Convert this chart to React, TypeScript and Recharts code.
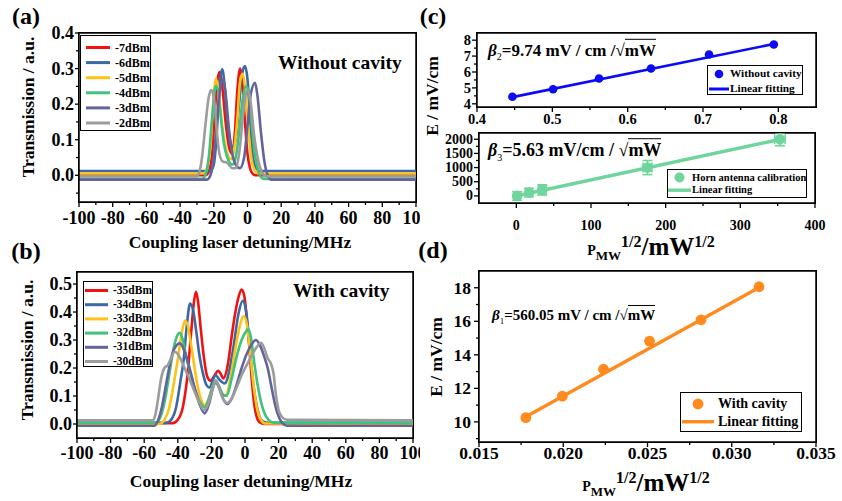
import React from 'react';
import {
  ComposedChart,
  ErrorBar,
  Line,
  LineChart,
  ReferenceLine,
  Scatter,
  XAxis,
  YAxis,
} from 'recharts';

const FONT = '"Liberation Serif", "Times New Roman", Times, serif';

// (a) transmission without cavity, [detuning MHz, transmission a.u.]
const noCavM7 = [[-100, 0], [-25, 0], [-23, 0.01], [-21, 0.06], [-19.5, 0.17], [-18, 0.26], [-16.7, 0.29], [-15, 0.25], [-13, 0.15], [-11, 0.08], [-9, 0.06], [-7.5, 0.12], [-6, 0.24], [-4.4, 0.3], [-3, 0.26], [-1.5, 0.15], [0, 0.06], [1.5, 0.02], [3, 0.005], [5, 0], [100, 0]];
const noCavM6 = [[-100, 0.012], [-22, 0.012], [-20, 0.03], [-18.5, 0.1], [-17, 0.22], [-15, 0.298], [-13.5, 0.25], [-12, 0.16], [-10.5, 0.1], [-9, 0.08], [-7, 0.1], [-5, 0.2], [-3, 0.29], [-1.5, 0.307], [0, 0.27], [1.5, 0.16], [3, 0.06], [5, 0.02], [7, 0.012], [100, 0.012]];
const noCavM5 = [[-100, 0.005], [-26, 0.005], [-24, 0.02], [-22, 0.08], [-20.5, 0.19], [-18.7, 0.272], [-17, 0.23], [-15, 0.14], [-13, 0.08], [-11, 0.05], [-9.5, 0.045], [-8, 0.07], [-6, 0.16], [-4.5, 0.26], [-3, 0.285], [-1.5, 0.25], [0, 0.16], [1.5, 0.08], [3, 0.03], [5, 0.01], [7, 0.005], [100, 0.005]];
const noCavM4 = [[-100, -0.01], [-27, -0.01], [-25, 0], [-23, 0.05], [-21, 0.16], [-19, 0.25], [-17.5, 0.24], [-16, 0.17], [-14, 0.09], [-12, 0.05], [-9, 0.03], [-7, 0.05], [-5, 0.12], [-3, 0.21], [-1, 0.25], [0.5, 0.24], [2, 0.17], [4, 0.07], [6, 0.02], [8, -0.005], [10, -0.01], [100, -0.01]];
const noCavM3 = [[-100, -0.012], [-24, -0.012], [-22, 0], [-20, 0.05], [-18, 0.16], [-16, 0.25], [-14.5, 0.27], [-13, 0.23], [-11, 0.13], [-9, 0.06], [-7, 0.03], [-4.5, 0.02], [-2, 0.05], [0, 0.14], [2, 0.23], [4.5, 0.26], [6, 0.22], [8, 0.12], [10, 0.04], [12, 0], [14, -0.012], [100, -0.012]];
const noCavM2 = [[-100, -0.003], [-30, -0.003], [-28.5, 0.01], [-27, 0.05], [-25, 0.14], [-23, 0.22], [-21.5, 0.24], [-20, 0.22], [-18.5, 0.14], [-17, 0.07], [-15, 0.04], [-12, 0.035], [-9, 0.02], [-7, 0.02], [-5, 0.06], [-3, 0.15], [-1, 0.23], [0.5, 0.24], [2, 0.2], [4, 0.11], [6, 0.05], [8, 0.015], [11, -0.003], [100, -0.003]];

// (b) transmission with cavity
const cavM35 = [[-100, 0.003], [-43, 0.003], [-40, 0.015], [-37, 0.06], [-34.5, 0.16], [-32, 0.33], [-30.5, 0.43], [-29.2, 0.472], [-28, 0.44], [-26.5, 0.35], [-24.5, 0.24], [-22.5, 0.17], [-20.5, 0.155], [-18, 0.175], [-16, 0.19], [-14.5, 0.18], [-13, 0.163], [-10, 0.22], [-8, 0.31], [-6, 0.39], [-4, 0.45], [-2, 0.48], [-0.5, 0.46], [1, 0.38], [2.5, 0.28], [4, 0.16], [5.5, 0.07], [7, 0.025], [9, 0.005], [12, 0], [100, 0]];
const cavM34 = [[-100, 0.004], [-47, 0.004], [-44, 0.015], [-41, 0.06], [-38.5, 0.15], [-36.5, 0.23], [-34.5, 0.36], [-32.7, 0.43], [-31, 0.41], [-29, 0.33], [-27, 0.24], [-25, 0.18], [-23, 0.14], [-21, 0.13], [-19, 0.16], [-17.5, 0.175], [-15.5, 0.16], [-12, 0.145], [-9, 0.2], [-6.5, 0.29], [-4, 0.39], [-1.4, 0.44], [0.5, 0.41], [2, 0.33], [3.5, 0.23], [5, 0.14], [6.5, 0.08], [8.5, 0.03], [11, 0.008], [14, 0.004], [100, 0.004]];
const cavM33 = [[-100, 0], [-51, 0], [-48, 0.015], [-45, 0.06], [-42.5, 0.14], [-40, 0.23], [-37.5, 0.33], [-35.7, 0.37], [-34, 0.35], [-32, 0.28], [-30, 0.2], [-28, 0.13], [-26, 0.085], [-24, 0.068], [-22, 0.085], [-19.5, 0.13], [-17.5, 0.15], [-15.5, 0.135], [-13, 0.1], [-11, 0.105], [-8.5, 0.17], [-6, 0.26], [-3.5, 0.34], [-0.8, 0.385], [1, 0.36], [2.5, 0.29], [4, 0.2], [5.5, 0.12], [7, 0.06], [9, 0.02], [12, 0.002], [100, 0]];
const cavM32 = [[-100, 0.005], [-53, 0.005], [-50, 0.03], [-47.5, 0.09], [-45, 0.18], [-42.5, 0.27], [-40, 0.32], [-38.7, 0.326], [-37, 0.3], [-35, 0.24], [-32, 0.17], [-29, 0.11], [-26.5, 0.075], [-24, 0.06], [-21.5, 0.09], [-19, 0.14], [-17.5, 0.155], [-15.5, 0.135], [-13, 0.105], [-11, 0.1], [-8, 0.16], [-5, 0.24], [-2, 0.3], [0, 0.325], [2, 0.338], [3.5, 0.31], [5.5, 0.22], [7.5, 0.14], [9.5, 0.08], [11.5, 0.04], [14, 0.015], [17, 0.005], [100, 0.005]];
const cavM31 = [[-100, -0.006], [-54, -0.006], [-52, 0.01], [-49.5, 0.06], [-47, 0.14], [-44.5, 0.22], [-42, 0.27], [-38.7, 0.288], [-36, 0.26], [-33, 0.2], [-30, 0.13], [-27, 0.07], [-24, 0.038], [-21.5, 0.07], [-19, 0.13], [-17.5, 0.15], [-15.5, 0.13], [-13, 0.09], [-10.5, 0.072], [-8, 0.09], [-5, 0.14], [-2, 0.2], [1, 0.25], [4, 0.285], [6.5, 0.3], [9, 0.28], [11.5, 0.24], [13.5, 0.2], [15.5, 0.14], [17.5, 0.08], [19.5, 0.035], [22, 0.005], [25, -0.006], [100, -0.006]];
const cavM30 = [[-100, 0.013], [-55, 0.013], [-53.5, 0.03], [-52, 0.08], [-50, 0.16], [-48, 0.2], [-46, 0.21], [-44, 0.235], [-41.7, 0.258], [-39, 0.24], [-36, 0.2], [-33, 0.16], [-30, 0.115], [-27, 0.075], [-24.5, 0.05], [-22, 0.07], [-19.5, 0.12], [-17.5, 0.155], [-15.5, 0.13], [-13, 0.09], [-10.5, 0.075], [-8, 0.09], [-5, 0.13], [-2, 0.175], [1, 0.21], [4, 0.245], [7, 0.275], [9.5, 0.29], [11.5, 0.27], [13.5, 0.235], [15.5, 0.215], [17, 0.18], [18.5, 0.1], [20, 0.05], [22, 0.025], [25, 0.015], [100, 0.013]];

const powersA = ['-7dBm', '-6dBm', '-5dBm', '-4dBm', '-3dBm', '-2dBm'];
const powersB = ['-35dBm', '-34dBm', '-33dBm', '-32dBm', '-31dBm', '-30dBm'];
const traceColors = ['#f01212', '#3a69a4', '#ffc214', '#3fc27c', '#64649c', '#9c9c9c'];
const tracesA = [noCavM7, noCavM6, noCavM5, noCavM4, noCavM3, noCavM2];
const tracesB = [cavM35, cavM34, cavM33, cavM32, cavM31, cavM30];

// (c) field vs sqrt(P): without cavity and horn antenna calibration
const noCavSqrtP = [0.447, 0.501, 0.562, 0.631, 0.708, 0.794];
const noCavField = [4.44, 4.92, 5.59, 6.22, 7.1, 7.73];
const noCavFit = [[0.447, 4.42], [0.794, 7.76]];
const hornSqrtP = [1, 17, 34.7, 175.6, 353];
const hornField = [0, 118, 212, 1000, 2000];
const hornErrX = [3, 4, 5, 6, 7];
const hornErrY = [150, 150, 180, 250, 230];
const hornFit = [[1, 6], [354, 2000]];

// (d) field vs sqrt(P) with cavity
const cavSqrtP = [0.01778, 0.01995, 0.02239, 0.02512, 0.02818, 0.03162];
const cavField = [10.25, 11.54, 13.14, 14.82, 16.09, 18.06];
const cavFit = [[0.01778, 10.3], [0.03162, 18.02]];

const specXMajor = [-100, -80, -60, -40, -20, 0, 20, 40, 60, 80, 100];
const specXMinor = [-90, -70, -50, -30, -10, 10, 30, 50, 70, 90];
const aYMajor = [0, 0.1, 0.2, 0.3, 0.4];
const aYMinor = [-0.05, 0.05, 0.15, 0.25, 0.35];
const bYMajor = [0, 0.1, 0.2, 0.3, 0.4, 0.5];
const bYMinor = [0.05, 0.15, 0.25, 0.35, 0.45];
const c1XMajor = [0.4, 0.5, 0.6, 0.7, 0.8];
const c1XMinor = [0.45, 0.55, 0.65, 0.75];
const c1YMajor = [4, 5, 6, 7, 8];
const c1YMinor = [4.5, 5.5, 6.5, 7.5];
const c2XMajor = [0, 100, 200, 300, 400];
const c2XMinor = [50, 150, 250, 350];
const c2YMajor = [0, 500, 1000, 1500, 2000];
const c2YMinor = [250, 750, 1250, 1750];
const dXMajor = [0.015, 0.02, 0.025, 0.03, 0.035];
const dXMinor = [0.0175, 0.0225, 0.0275, 0.0325];
const dYMajor = [10, 12, 14, 16, 18];
const dYMinor = [9, 11, 13, 15, 17];

const toPts = (arr: number[][]) => arr.map(([x, y]) => ({ x, y }));

type Margin = { top: number; right: number; left: number; bottom: number };
type Layout = { left: number; top: number; width: number; height: number; margin: Margin; yWidth: number; xHeight: number };

// where each sub-chart sits on the page
const layoutA: Layout = { left: 0, top: 0, width: 420, height: 250, margin: { top: 33, right: 4, left: 0, bottom: 0 }, yWidth: 79, xHeight: 48 };
const layoutB: Layout = { left: 0, top: 250, width: 420, height: 251, margin: { top: 22, right: 7, left: 0, bottom: 0 }, yWidth: 77, xHeight: 63 };
const layoutC1: Layout = { left: 420, top: 0, width: 422, height: 132, margin: { top: 33, right: 26, left: 0, bottom: 0 }, yWidth: 57, xHeight: 25 };
const layoutC2: Layout = { left: 420, top: 125, width: 422, height: 125, margin: { top: 8, right: 27, left: 0, bottom: 0 }, yWidth: 59, xHeight: 47 };
const layoutD: Layout = { left: 420, top: 250, width: 422, height: 251, margin: { top: 21, right: 26, left: 0, bottom: 0 }, yWidth: 59, xHeight: 59 };

type TickOpts = {
  side: 'bottom' | 'left';
  majors: number[];
  fmt: (v: number) => string;
  size: number;
  gap: number;
  len?: number;
};

// draws major/minor tick marks plus bold labels for the majors
function axisTick(o: TickOpts) {
  return (props: any) => {
    const { x, y, payload } = props;
    const v = Number(payload.value);
    const major = o.majors.some((m) => Math.abs(m - v) < 1e-9);
    const len = major ? o.len ?? 5 : 3;
    const textProps = {
      fontFamily: FONT,
      fontWeight: 'bold' as const,
      fontSize: o.size,
      fill: '#000',
      dominantBaseline: 'central' as const,
    };
    if (o.side === 'bottom') {
      return (
        <g>
          <line x1={x} x2={x} y1={y} y2={y + len} stroke='#000' strokeWidth={1.3} />
          {major && (
            <text x={x} y={y + o.gap} textAnchor='middle' {...textProps}>
              {o.fmt(v)}
            </text>
          )}
        </g>
      );
    }
    return (
      <g>
        <line x1={x} x2={x - len} y1={y} y2={y} stroke='#000' strokeWidth={1.3} />
        {major && (
          <text x={x - o.gap} y={y} textAnchor='end' {...textProps}>
            {o.fmt(v)}
          </text>
        )}
      </g>
    );
  };
}

const axisLine = { stroke: '#000', strokeWidth: 1.5 };

// top and right edges of the plot box as reference lines on the domain limits
function boxEdges(xd: number[], yd: number[]) {
  return [
    <ReferenceLine key='top' y={yd[1]} stroke='#000' strokeWidth={1.5} ifOverflow='visible' />,
    <ReferenceLine key='right' x={xd[1]} stroke='#000' strokeWidth={1.5} ifOverflow='visible' />,
  ];
}

// closed box around a plot area, from the margins/axis sizes its chart uses
function PlotFrame({ l }: { l: Layout }) {
  const x0 = l.left + l.margin.left + l.yWidth;
  const y0 = l.top + l.margin.top;
  const x1 = l.left + l.width - l.margin.right;
  const y1 = l.top + l.height - l.margin.bottom - l.xHeight;
  return (
    <div
      style={{
        position: 'absolute',
        left: x0 - 0.75,
        top: y0 - 0.75,
        width: x1 - x0 + 1.5,
        height: y1 - y0 + 1.5,
        border: '1.5px solid #000',
        boxSizing: 'border-box',
        pointerEvents: 'none',
      }}
    />
  );
}

function SpectrumChart(props: {
  l: Layout;
  traces: number[][][];
  yDomain: number[];
  yMajor: number[];
  yMinor: number[];
  xGap: number;
  yGap: number;
}) {
  const { l } = props;
  const xd = [-100, 100];
  return (
    <LineChart width={l.width} height={l.height} margin={l.margin}>
      <XAxis
        type='number'
        dataKey='x'
        domain={xd}
        allowDataOverflow
        ticks={[...specXMajor, ...specXMinor]}
        interval={0}
        height={l.xHeight}
        axisLine={axisLine}
        tickLine={false}
        tickSize={0}
        tickMargin={0}
        tick={axisTick({ side: 'bottom', majors: specXMajor, fmt: (v) => String(v), size: 18, gap: props.xGap })}
      />
      <YAxis
        type='number'
        dataKey='y'
        domain={props.yDomain}
        allowDataOverflow
        ticks={[...props.yMajor, ...props.yMinor]}
        interval={0}
        width={l.yWidth}
        axisLine={axisLine}
        tickLine={false}
        tickSize={0}
        tickMargin={0}
        tick={axisTick({ side: 'left', majors: props.yMajor, fmt: (v) => v.toFixed(1), size: 18, gap: props.yGap, len: 4 })}
      />
      {boxEdges(xd, props.yDomain)}
      {props.traces.map((t, i) => (
        <Line
          key={i}
          data={toPts(t)}
          dataKey='y'
          type='monotone'
          stroke={traceColors[i]}
          strokeWidth={2.6}
          dot={false}
          isAnimationActive={false}
        />
      ))}
    </LineChart>
  );
}

function FieldChart(props: {
  l: Layout;
  xDomain: number[];
  yDomain: number[];
  xMajor: number[];
  xMinor: number[];
  yMajor: number[];
  yMinor: number[];
  xFmt: (v: number) => string;
  tickSize: number;
  xGap: number;
  yGap: number;
  points: { x: number; y: number; ex?: number; ey?: number }[];
  fit: number[][];
  color: string;
  r: number;
  lineWidth: number;
  errors?: boolean;
}) {
  const { l } = props;
  const c = props.color;
  return (
    <ComposedChart width={l.width} height={l.height} margin={l.margin}>
      <XAxis
        type='number'
        dataKey='x'
        domain={props.xDomain}
        allowDataOverflow
        ticks={[...props.xMajor, ...props.xMinor]}
        interval={0}
        height={l.xHeight}
        axisLine={axisLine}
        tickLine={false}
        tickSize={0}
        tickMargin={0}
        tick={axisTick({ side: 'bottom', majors: props.xMajor, fmt: props.xFmt, size: props.tickSize, gap: props.xGap })}
      />
      <YAxis
        type='number'
        dataKey='y'
        domain={props.yDomain}
        allowDataOverflow
        ticks={[...props.yMajor, ...props.yMinor]}
        interval={0}
        width={l.yWidth}
        axisLine={axisLine}
        tickLine={false}
        tickSize={0}
        tickMargin={0}
        tick={axisTick({ side: 'left', majors: props.yMajor, fmt: (v) => String(v), size: props.tickSize, gap: props.yGap })}
      />
      {boxEdges(props.xDomain, props.yDomain)}
      <Line
        data={toPts(props.fit)}
        dataKey='y'
        type='linear'
        stroke={c}
        strokeWidth={props.lineWidth}
        dot={false}
        isAnimationActive={false}
      />
      <Scatter
        data={props.points}
        dataKey='y'
        fill={c}
        isAnimationActive={false}
        shape={(p: any) => <circle cx={p.cx} cy={p.cy} r={props.r} fill={c} />}
      >
        {props.errors && <ErrorBar dataKey='ex' direction='x' width={5} stroke={c} strokeWidth={1.6} />}
        {props.errors && <ErrorBar dataKey='ey' direction='y' width={5} stroke={c} strokeWidth={1.6} />}
      </Scatter>
    </ComposedChart>
  );
}

function Place({ l, children }: { l: Layout; children: React.ReactNode }) {
  return <div style={{ position: 'absolute', left: l.left, top: l.top, width: l.width, height: l.height }}>{children}</div>;
}

function Txt(props: {
  x: number;
  y: number;
  size: number;
  children: React.ReactNode;
  anchor?: 'start' | 'middle' | 'end';
  rotate?: boolean;
  weight?: string;
}) {
  const tx = props.anchor === 'start' ? '0' : props.anchor === 'end' ? '-100%' : '-50%';
  return (
    <div
      style={{
        position: 'absolute',
        left: props.x,
        top: props.y,
        transform: `translate(${tx}, -50%)${props.rotate ? ' rotate(-90deg)' : ''}`,
        fontFamily: FONT,
        fontWeight: (props.weight ?? 'bold') as any,
        fontSize: props.size,
        lineHeight: 1,
        whiteSpace: 'nowrap',
        color: '#000',
      }}
    >
      {props.children}
    </div>
  );
}

type Row = { label: string; color: string; kind: 'line' | 'dot' };

function LegendBox(props: {
  left: number;
  top: number;
  width: number;
  height: number;
  rows: Row[];
  step: number;
  first: number;
  symX: number;
  symW: number;
  textX: number;
  size: number;
  r?: number;
  lw?: number;
}) {
  return (
    <div
      style={{
        position: 'absolute',
        left: props.left,
        top: props.top,
        width: props.width,
        height: props.height,
        border: '1px solid #000',
        boxSizing: 'border-box',
        background: '#fff',
      }}
    >
      <svg width={props.width} height={props.height} style={{ position: 'absolute', left: -1, top: -1 }}>
        {props.rows.map((row, i) => {
          const y = props.first + i * props.step;
          return row.kind === 'line' ? (
            <line key={i} x1={props.symX} x2={props.symX + props.symW} y1={y} y2={y} stroke={row.color} strokeWidth={props.lw ?? 3} />
          ) : (
            <circle key={i} cx={props.symX + props.symW / 2} cy={y} r={props.r ?? 5} fill={row.color} />
          );
        })}
      </svg>
      {props.rows.map((row, i) => (
        <Txt key={i} x={props.textX - 1} y={props.first + i * props.step - 1} size={props.size} anchor='start'>
          {row.label}
        </Txt>
      ))}
    </div>
  );
}

function SqrtUnit({ lead }: { lead: React.ReactNode }) {
  return (
    <>
      {lead}
      <span>√</span>
      <span style={{ borderTop: '1.5px solid #000', paddingTop: 1 }}>mW</span>
    </>
  );
}

function PowerTitle() {
  return (
    <span>
      <span style={{ fontSize: 14 }}>P</span>
      <span style={{ fontSize: 13, position: 'relative', top: 5 }}>MW</span>
      <span style={{ fontSize: 16, position: 'relative', top: -8 }}>1/2</span>
      <span style={{ fontSize: 25 }}>/mW</span>
      <span style={{ fontSize: 16, position: 'relative', top: -8 }}>1/2</span>
    </span>
  );
}

export default function App() {
  const rowsA = powersA.map((label, i) => ({ label, color: traceColors[i], kind: 'line' as const }));
  const rowsB = powersB.map((label, i) => ({ label, color: traceColors[i], kind: 'line' as const }));
  const noCavPts = noCavSqrtP.map((x, i) => ({ x, y: noCavField[i] }));
  const hornPts = hornSqrtP.map((x, i) => ({ x, y: hornField[i], ex: hornErrX[i], ey: hornErrY[i] }));
  const cavPts = cavSqrtP.map((x, i) => ({ x, y: cavField[i] }));
  const blue = '#0b0bf5';
  const mint = '#6fd59d';
  const orange = '#ff8a1e';

  return (
    <div
      style={{
        position: 'absolute',
        left: 0,
        top: 0,
        width: 842,
        height: 501,
        background: '#fff',
        overflow: 'hidden',
      }}
    >
      <Place l={layoutA}>
        <SpectrumChart l={layoutA} traces={tracesA} yDomain={[-0.075, 0.4]} yMajor={aYMajor} yMinor={aYMinor} xGap={16} yGap={5} />
      </Place>
      <Place l={layoutB}>
        <SpectrumChart l={layoutB} traces={tracesB} yDomain={[-0.05, 0.543]} yMajor={bYMajor} yMinor={bYMinor} xGap={15} yGap={5} />
      </Place>
      <Place l={layoutC1}>
        <FieldChart
          l={layoutC1}
          xDomain={[0.4, 0.85]}
          yDomain={[3.8, 8.45]}
          xMajor={c1XMajor}
          xMinor={c1XMinor}
          yMajor={c1YMajor}
          yMinor={c1YMinor}
          xFmt={(v) => v.toFixed(1)}
          tickSize={14.5}
          xGap={12}
          yGap={6}
          points={noCavPts}
          fit={noCavFit}
          color={blue}
          r={4.3}
          lineWidth={2.6}
        />
      </Place>
      <Place l={layoutC2}>
        <FieldChart
          l={layoutC2}
          xDomain={[-50, 400]}
          yDomain={[-250, 2220]}
          xMajor={c2XMajor}
          xMinor={c2XMinor}
          yMajor={c2YMajor}
          yMinor={c2YMinor}
          xFmt={(v) => String(v)}
          tickSize={14}
          xGap={22}
          yGap={6}
          points={hornPts}
          fit={hornFit}
          color={mint}
          r={5.3}
          lineWidth={3.4}
          errors
        />
      </Place>
      <Place l={layoutD}>
        <FieldChart
          l={layoutD}
          xDomain={[0.015, 0.035]}
          yDomain={[8.8, 19]}
          xMajor={dXMajor}
          xMinor={dXMinor}
          yMajor={dYMajor}
          yMinor={dYMinor}
          xFmt={(v) => v.toFixed(3)}
          tickSize={17.5}
          xGap={11}
          yGap={8}
          points={cavPts}
          fit={cavFit}
          color={orange}
          r={5.4}
          lineWidth={3.4}
        />
      </Place>

      {/* plot boxes */}
      {[layoutA, layoutB, layoutC1, layoutC2, layoutD].map((l, i) => (
        <PlotFrame key={i} l={l} />
      ))}

      {/* panel letters */}
      <Txt x={26} y={16} size={24}>(a)</Txt>
      <Txt x={26} y={251} size={24}>(b)</Txt>
      <Txt x={433} y={16} size={24}>(c)</Txt>
      <Txt x={433} y={250} size={24}>(d)</Txt>

      {/* axis titles */}
      <Txt x={29} y={107} size={17.5} rotate>Transmission / a.u.</Txt>
      <Txt x={28} y={350} size={17.5} rotate>Transmission / a.u.</Txt>
      <Txt x={240} y={243} size={17.5}>Coupling laser detuning/MHz</Txt>
      <Txt x={241} y={482} size={17.5}>Coupling laser detuning/MHz</Txt>
      <Txt x={433} y={96} size={17.5} rotate>E / mV/cm</Txt>
      <Txt x={437} y={357} size={17.5} rotate>E / mV/cm</Txt>
      <Txt x={651} y={246} size={17}><PowerTitle /></Txt>
      <Txt x={646} y={482} size={17}><PowerTitle /></Txt>

      {/* annotations */}
      <Txt x={278} y={63} size={19.5} anchor='start'>Without cavity</Txt>
      <Txt x={293} y={291} size={19.5} anchor='start'>With cavity</Txt>
      <Txt x={488} y={52} size={17} anchor='start'>
        <SqrtUnit lead={<><i>β</i><sub style={{ fontSize: 10, fontWeight: 'normal' }}>2</sub>=9.74 mV / cm /</>} />
      </Txt>
      <Txt x={488} y={152} size={18} anchor='start'>
        <SqrtUnit lead={<><i>β</i><sub style={{ fontSize: 10, fontWeight: 'normal' }}>3</sub>=5.63 mV/cm / </>} />
      </Txt>
      <Txt x={492} y={317} size={15} anchor='start'>
        <SqrtUnit lead={<><i>β</i><sub style={{ fontSize: 9, fontWeight: 'normal' }}>1</sub>=560.05 mV / cm /</>} />
      </Txt>

      {/* legends */}
      <LegendBox left={80} top={35} width={71} height={96} rows={rowsA} step={15.1} first={12.5} symX={6} symW={24} textX={35} size={12} />
      <LegendBox left={83} top={281} width={70} height={86} rows={rowsB} step={14.2} first={9.5} symX={2} symW={23} textX={30} size={11.5} />
      <LegendBox
        left={707}
        top={65}
        width={96}
        height={30}
        rows={[
          { label: 'Without cavity', color: blue, kind: 'dot' },
          { label: 'Linear fitting', color: blue, kind: 'line' },
        ]}
        step={15}
        first={9}
        symX={2}
        symW={20}
        textX={23}
        size={11.3}
        r={4.3}
      />
      <LegendBox
        left={667}
        top={169}
        width={140}
        height={29}
        rows={[
          { label: 'Horn antenna calibration', color: mint, kind: 'dot' },
          { label: 'Linear fitting', color: mint, kind: 'line' },
        ]}
        step={12.7}
        first={8.5}
        symX={1}
        symW={23}
        textX={25}
        size={10.5}
        r={5}
        lw={3.4}
      />
      <LegendBox
        left={680}
        top={392}
        width={122}
        height={40}
        rows={[
          { label: 'With cavity', color: orange, kind: 'dot' },
          { label: 'Linear fitting', color: orange, kind: 'line' },
        ]}
        step={17.7}
        first={12}
        symX={2}
        symW={32}
        textX={38}
        size={14}
        r={5.4}
        lw={3.4}
      />
    </div>
  );
}
